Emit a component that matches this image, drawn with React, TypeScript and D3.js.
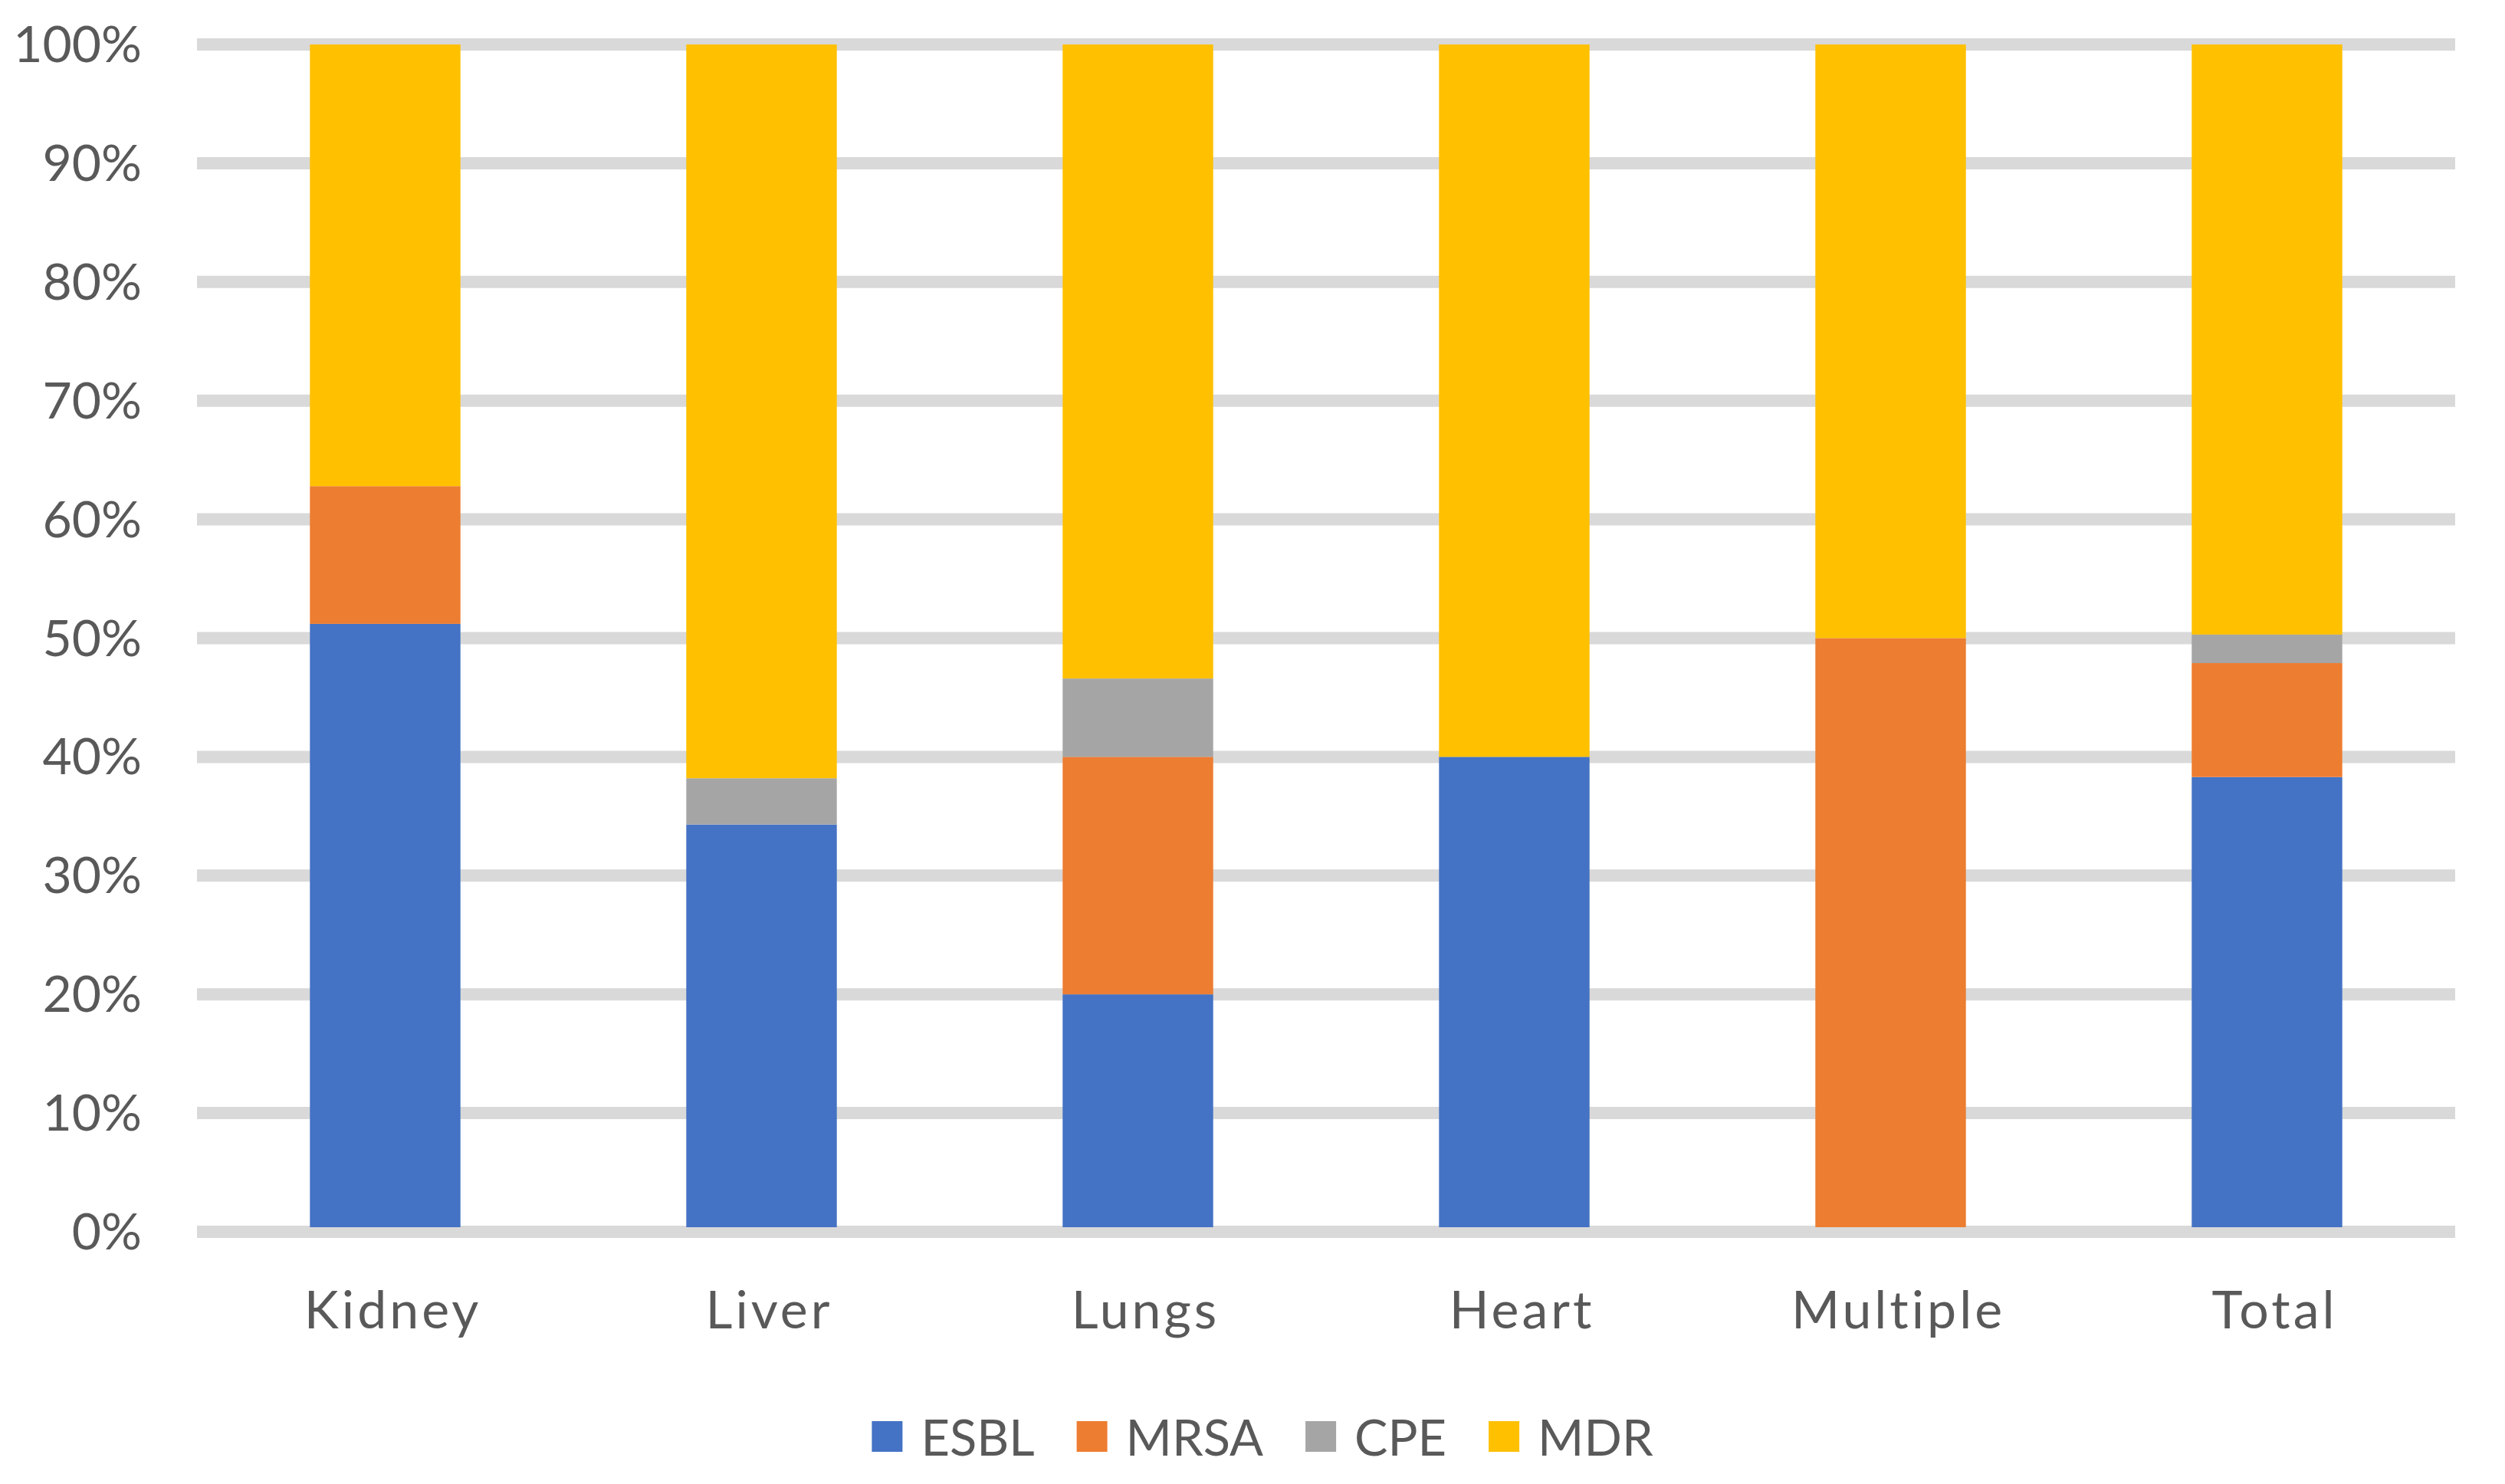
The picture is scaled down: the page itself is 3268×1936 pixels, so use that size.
import React, { useEffect, useRef } from 'react';
import * as d3 from 'd3';

const categories = ['Kidney', 'Liver', 'Lungs', 'Heart', 'Multiple', 'Total'];
const seriesNames = ['ESBL', 'MRSA', 'CPE', 'MDR'];
const seriesColors = ['#4472C4', '#ED7D31', '#A5A5A5', '#FFC000'];

// shares per category
const esbl = [0.512, 0.343, 0.2, 0.4, 0, 0.383];
const mrsa = [0.116, 0, 0.2, 0, 0.5, 0.096];
const cpe = [0, 0.039, 0.066, 0, 0, 0.024];
const mdr = [0.372, 0.618, 0.534, 0.6, 0.5, 0.497];

const yTicks = [0, 0.1, 0.2, 0.3, 0.4, 0.5, 0.6, 0.7, 0.8, 0.9, 1];

const W = 3268;
const H = 1936;
const FONT = 'Lato, "Open Sans", sans-serif';
const TEXT = '#595959';

const App: React.FC = () => {
  const svgRef = useRef<SVGSVGElement>(null);

  useEffect(() => {
    if (!svgRef.current) return;
    const svg = d3.select(svgRef.current);
    svg.selectAll('*').remove();

    const x = d3.scaleBand<string>()
      .domain(categories)
      .range([257, 3203])
      .paddingInner(0.6)
      .paddingOuter(0.3);

    const y = d3.scaleLinear().domain([0, 1]).range([1607, 58]);

    // gridlines
    svg.append('g')
      .selectAll('line')
      .data(yTicks)
      .join('line')
      .attr('x1', 257)
      .attr('x2', 3203)
      .attr('y1', d => y(d))
      .attr('y2', d => y(d))
      .attr('stroke', '#D9D9D9')
      .attr('stroke-width', 16);

    // y labels
    svg.append('g')
      .selectAll('text')
      .data(yTicks)
      .join('text')
      .attr('x', 185)
      .attr('y', d => y(d) + 23)
      .attr('text-anchor', 'end')
      .style('font-family', FONT)
      .style('font-size', '66px')
      .style('fill', TEXT)
      .text(d => d3.format('.0%')(d));

    // stacked bars (sit on the top edge of the zero line)
    const rows = categories.map((c, i) => ({
      category: c,
      ESBL: esbl[i],
      MRSA: mrsa[i],
      CPE: cpe[i],
      MDR: mdr[i],
    }));
    const stacked = d3.stack<any>().keys(seriesNames)(rows);
    const base = y(0) - 6;

    svg.append('g')
      .selectAll('g')
      .data(stacked)
      .join('g')
      .attr('fill', (_, i) => seriesColors[i])
      .selectAll('rect')
      .data(d => d)
      .join('rect')
      .attr('x', d => x(d.data.category)!)
      .attr('width', x.bandwidth())
      .attr('y', d => y(Math.min(d[1], 1)))
      .attr('height', d => Math.max(0, Math.min(base, y(d[0])) - y(Math.min(d[1], 1))));

    // category labels
    svg.append('g')
      .selectAll('text')
      .data(categories)
      .join('text')
      .attr('x', d => x(d)! + x.bandwidth() / 2 + 10)
      .attr('y', 1733)
      .attr('text-anchor', 'middle')
      .style('font-family', FONT)
      .style('font-size', '68px')
      .style('letter-spacing', '4px')
      .style('fill', TEXT)
      .text(d => d);

    // legend
    const legend = svg.append('g');
    const sq = 40;
    const gapText = 24;
    const gapItem = 55;
    let cx = 0;
    seriesNames.forEach((name, i) => {
      const item = legend.append('g').attr('transform', `translate(${cx},0)`);
      item.append('rect')
        .attr('x', 0)
        .attr('y', 1854)
        .attr('width', sq)
        .attr('height', sq)
        .attr('fill', seriesColors[i]);
      const t = item.append('text')
        .attr('x', sq + gapText)
        .attr('y', 1899)
        .style('font-family', FONT)
        .style('font-size', '65px')
        .style('fill', TEXT)
        .text(name);
      const tw = (t.node() as SVGTextElement).getComputedTextLength();
      cx += sq + gapText + tw + gapItem;
    });
    const total = cx - gapItem;
    legend.attr('transform', `translate(${1647 - total / 2},0)`);
  }, []);

  return (
    <svg
      ref={svgRef}
      width={W}
      height={H}
      style={{ position: 'absolute', left: 0, top: 0, background: '#fff' }}
    />
  );
};

export default App;
